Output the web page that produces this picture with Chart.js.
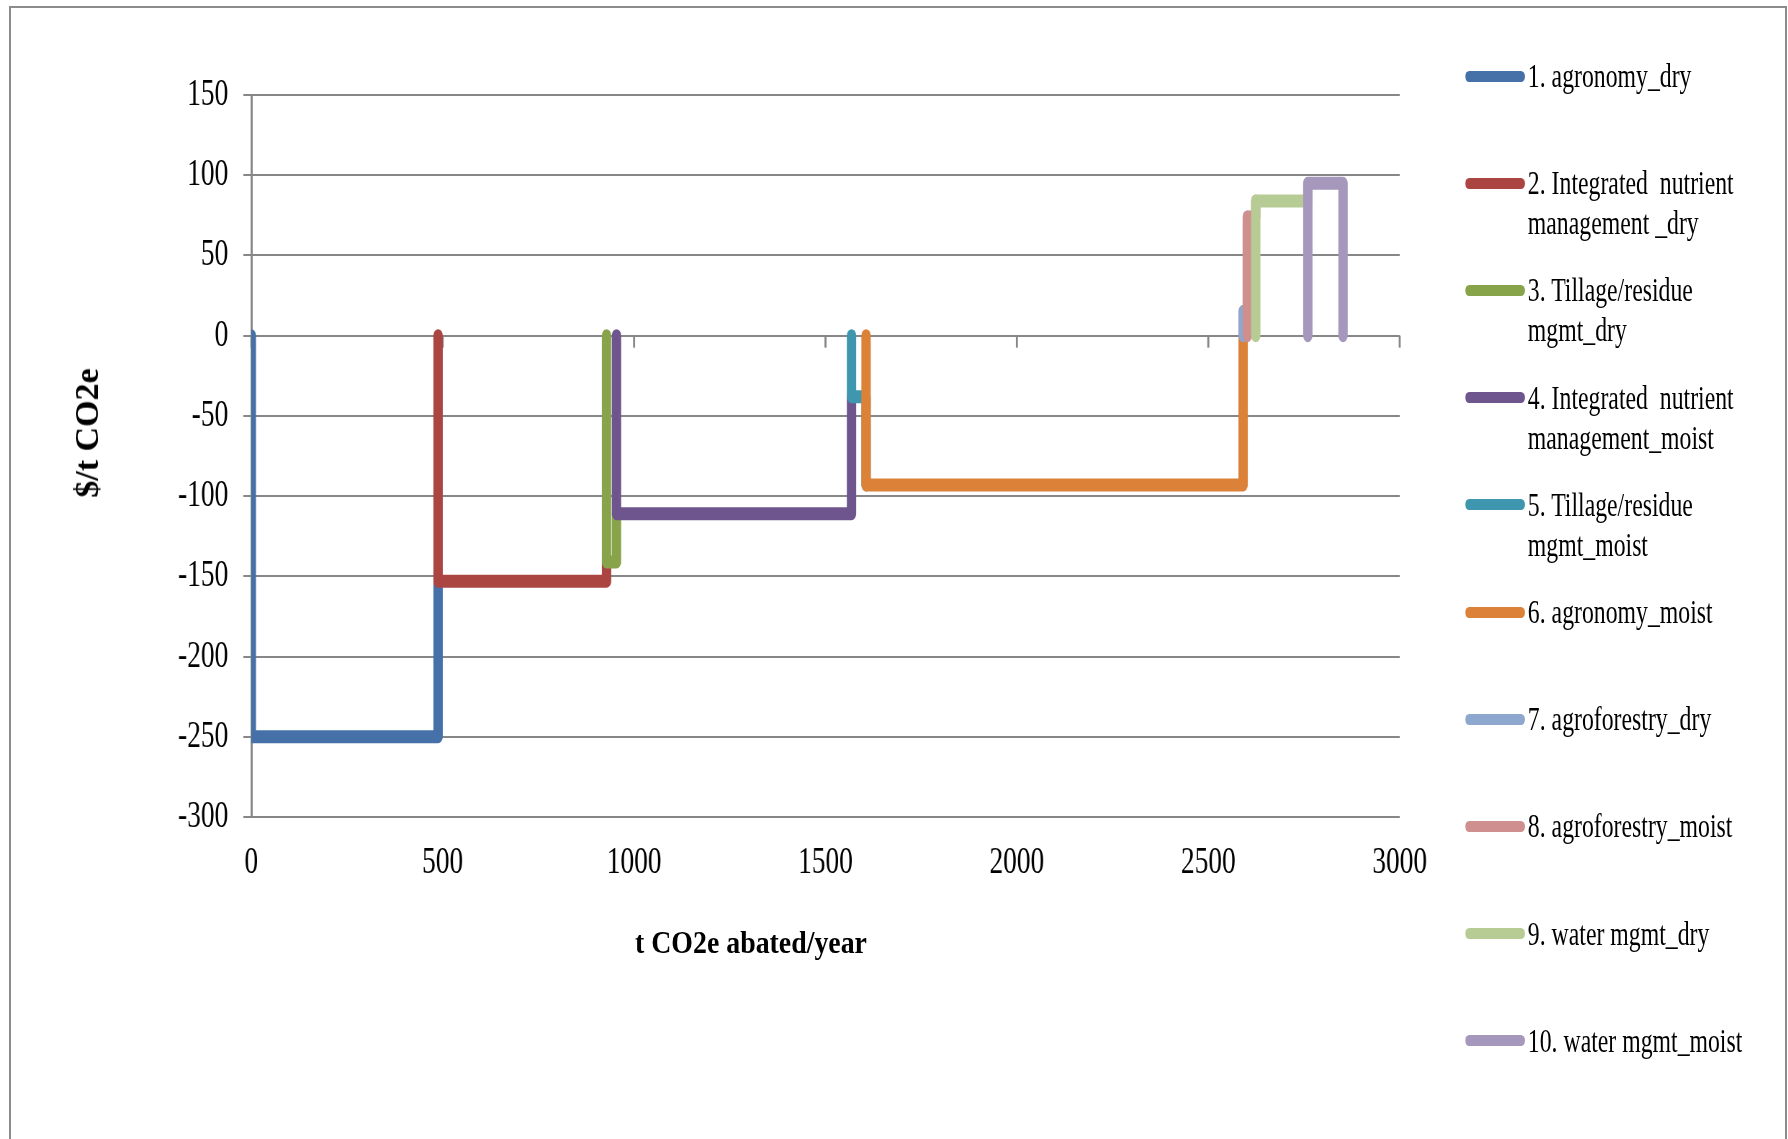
<!DOCTYPE html>
<html>
<head>
<meta charset="utf-8">
<script src="https://cdn.jsdelivr.net/npm/chart.js"></script>
<style>
  body { margin: 0; background: #fff; width: 1788px; height: 1139px; overflow: hidden; position: relative; font-family: 'Liberation Serif', 'DejaVu Serif', serif; }
  #frame { position: absolute; left: 9px; top: 6px; width: 1774px; height: 1200px; border: 2px solid #8c8c8c; }
  /* the original picture is squeezed sideways, so draw wide and scale it down */
  #squeeze { position: absolute; left: 0; top: 0; width: 2483px; height: 1139px; transform: scaleX(0.72); transform-origin: 0 0; }
  #macChart { position: absolute; left: 0; top: 0; }
  .swatch { position: absolute; left: 2035px; width: 83px; height: 11px; border-radius: 6px; }
  .legendText { position: absolute; left: 2122px; font-size: 33px; line-height: 40px; color: #000; white-space: pre; }
  #yTitle { position: absolute; left: 87px; top: 433px; font-weight: bold; font-size: 34px; transform: translate(-50%, -50%) rotate(-90deg); white-space: nowrap; }
  #xTitle { position: absolute; left: 751px; top: 942px; font-weight: bold; font-size: 32px; transform: translate(-50%, -50%) scaleX(0.87); white-space: nowrap; }
</style>
</head>
<body>
<div id="frame"></div>
<div id="squeeze">
  <canvas id="macChart" width="2483" height="1139"></canvas>
  <div id="legend"></div>
</div>
<div id="yTitle">$/t CO2e</div>
<div id="xTitle">t CO2e abated/year</div>

<script>
const seriesLabels = [
  ['1. agronomy_dry'],
  ['2. Integrated  nutrient', 'management _dry'],
  ['3. Tillage/residue', 'mgmt_dry'],
  ['4. Integrated  nutrient', 'management_moist'],
  ['5. Tillage/residue', 'mgmt_moist'],
  ['6. agronomy_moist'],
  ['7. agroforestry_dry'],
  ['8. agroforestry_moist'],
  ['9. water mgmt_dry'],
  ['10. water mgmt_moist']
];

// cumulative abatement (x) for each step point
const abatementX = [
  [0, 0, 488, 488],
  [488, 488, 928, 928],
  [928, 928, 954, 954],
  [954, 954, 1568, 1568],
  [1568, 1568, 1606, 1606],
  [1606, 1606, 2591, 2591],
  [2591, 2591, 2602, 2602],
  [2602, 2602, 2624, 2624],
  [2624, 2624, 2760, 2760],
  [2760, 2760, 2852, 2852]
];

// cost ($/t CO2e) for each step point
const costY = [
  [0, -250, -250, -153],
  [0, -153, -153, -141],
  [0, -141, -141, -111],
  [0, -111, -111, -38],
  [0, -38, -38, -93],
  [0, -93, -93, 15],
  [0, 15, 15, 74],
  [0, 74, 74, 84],
  [0, 84, 84, 95],
  [0, 95, 95, 0]
];

const seriesColors = ['#4571A8', '#AA4541', '#88A44B', '#6F558E', '#3E97AF', '#DB8238', '#8EA7CF', '#CF8F8E', '#B7CC95', '#A698BD'];

const xTicks = [0, 500, 1000, 1500, 2000, 2500, 3000];
const yTicks = [150, 100, 50, 0, -50, -100, -150, -200, -250, -300];

const gridGray = '#878787';
const tickFont = { family: "'Liberation Serif', 'DejaVu Serif', serif", size: 38 };

// little tick marks hanging from the zero line
const zeroTicks = {
  id: 'zeroTicks',
  beforeDatasetsDraw(chart) {
    const ctx = chart.ctx;
    const xs = chart.scales.x;
    const y0 = chart.scales.y.getPixelForValue(0);
    ctx.save();
    ctx.strokeStyle = gridGray;
    ctx.lineWidth = 2.8;
    xTicks.forEach(function(v) {
      const px = xs.getPixelForValue(v);
      ctx.beginPath();
      ctx.moveTo(px, y0);
      ctx.lineTo(px, y0 + 12);
      ctx.stroke();
    });
    ctx.restore();
  }
};

const datasets = seriesLabels.map(function(lines, i) {
  return {
    label: lines.join(' '),
    data: abatementX[i].map(function(x, j) { return { x: x, y: costY[i][j] }; }),
    borderColor: seriesColors[i],
    backgroundColor: seriesColors[i],
    borderWidth: 13,
    borderCapStyle: 'round',
    borderJoinStyle: 'round',
    pointRadius: 0,
    pointHoverRadius: 0,
    tension: 0,
    fill: false,
    order: 20 - i
  };
});

const ctx = document.getElementById('macChart').getContext('2d');
const macChart = new Chart(ctx, {
  type: 'line',
  data: { datasets: datasets },
  plugins: [zeroTicks],
  options: {
    responsive: false,
    animation: false,
    layout: { padding: { left: 149, right: 539, top: 95, bottom: 222 } },
    plugins: {
      legend: { display: false },
      tooltip: { enabled: false }
    },
    scales: {
      x: {
        type: 'linear',
        min: 0,
        max: 3000,
        afterBuildTicks: function(scale) { scale.ticks = xTicks.map(function(v) { return { value: v }; }); },
        afterFit: function(scale) { scale.height = 100; },
        grid: { display: false },
        border: { display: false },
        ticks: {
          padding: 15,
          maxRotation: 0,
          autoSkip: false,
          color: '#000',
          font: tickFont,
          callback: function(v) { return String(v); }
        }
      },
      y: {
        min: -300,
        max: 150,
        afterBuildTicks: function(scale) { scale.ticks = yTicks.map(function(v) { return { value: v }; }); },
        afterFit: function(scale) { scale.width = 200; },
        grid: { color: gridGray, lineWidth: 2, tickLength: 11, drawTicks: true },
        border: { display: true, color: gridGray, width: 3 },
        ticks: {
          padding: 21,
          color: '#000',
          font: tickFont,
          callback: function(v) { return String(v); }
        }
      }
    }
  }
});

// legend drawn as html so the long names can wrap like the original
const legendBox = document.getElementById('legend');
const firstRow = 76;
const rowStep = 107.2;
seriesLabels.forEach(function(lines, i) {
  const cy = firstRow + i * rowStep;
  const sw = document.createElement('div');
  sw.className = 'swatch';
  sw.style.top = (cy - 5.5) + 'px';
  sw.style.background = seriesColors[i];
  legendBox.appendChild(sw);
  const txt = document.createElement('div');
  txt.className = 'legendText';
  txt.style.top = (cy - 20) + 'px';
  txt.textContent = lines.join('\n');
  legendBox.appendChild(txt);
});
</script>
</body>
</html>
